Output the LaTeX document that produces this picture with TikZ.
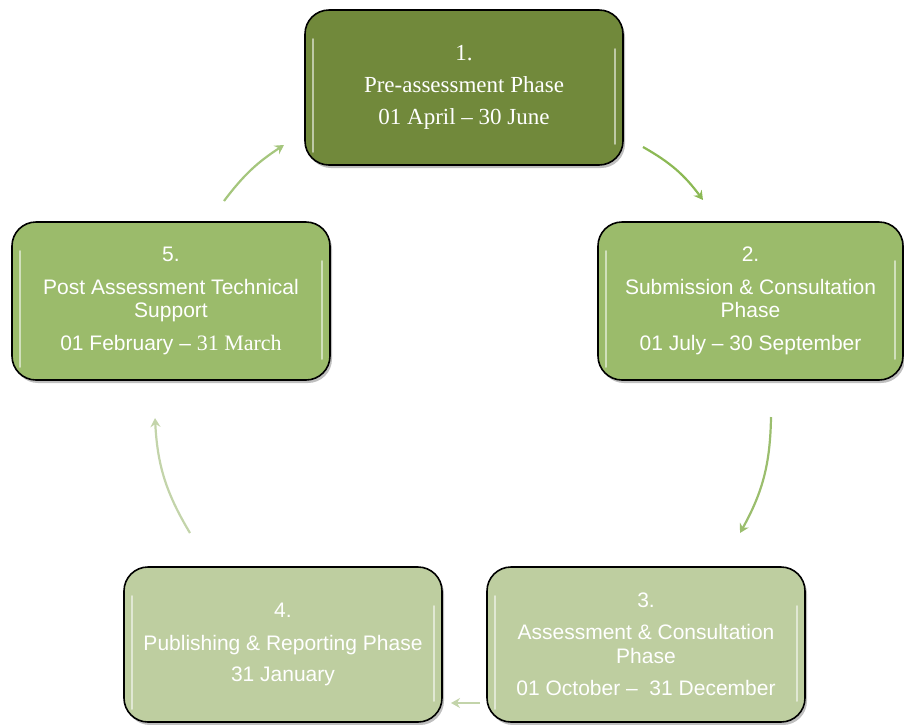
\documentclass[tikz,border=0pt]{standalone}
\usepackage{fontspec}
\setmainfont{Liberation Serif}
\newfontfamily\boxsans{Liberation Sans}
\usetikzlibrary{calc,shadows,arrows.meta}

\definecolor{gDark}{RGB}{113,137,59}
\definecolor{gMid}{RGB}{155,187,107}
\definecolor{gLight}{RGB}{190,206,160}
\definecolor{aOne}{RGB}{140,185,85}
\definecolor{aTwo}{RGB}{155,190,110}
\definecolor{aThree}{RGB}{195,212,170}
\definecolor{aFive}{RGB}{165,198,125}

\begin{document}
\begin{tikzpicture}[x=1pt,y=-1pt,
  phase/.style={draw=black, line width=1.6pt, rounded corners=24pt,
    minimum width=318pt, minimum height=155pt, align=center, text=white,
    inner sep=0pt,
    drop shadow={shadow xshift=2pt, shadow yshift=-3pt, opacity=0.25, fill=black}},
  hl/.style={white, line width=2.5pt, line cap=round, opacity=0.55},
  cyc/.style={line width=2.2pt, -{Stealth[length=9pt,width=10pt,inset=3pt]}},
  sansbox/.style={font=\boxsans\fontsize{21}{23.5}\selectfont},
  serifbox/.style={font=\fontsize{23}{25}\selectfont}
]
\useasboundingbox (0,0) rectangle (904,724);

\node[phase, serifbox, fill=gDark] (b1) at (464,87.5)
  {1.\\[7pt]Pre-assessment Phase\\[7pt]01 April – 30 June};
\node[phase, sansbox, fill=gMid, minimum width=305pt, minimum height=158pt] (b2) at (750.5,301)
  {2.\\[9pt]Submission \& Consultation\\Phase\\[9pt]01 July – 30 September};
\node[phase, sansbox, fill=gLight] (b3) at (646,644.5)
  {3.\\[9pt]Assessment \& Consultation\\Phase\\[9pt]01 October –~ 31 December};
\node[phase, sansbox, fill=gLight] (b4) at (283,644.5)
  {4.\\[9pt]Publishing \& Reporting Phase\\[8pt]31 January};
\node[phase, sansbox, fill=gMid, minimum height=158pt] (b5) at (171,301)
  {5.\\[9pt]Post Assessment Technical\\Support\\[9pt]01 February – {\rmfamily\fontsize{22}{23.5}\selectfont 31 March}};

% glossy highlights
\foreach \b in {b1,b2,b3,b4,b5}{
  \draw[hl] ($(\b.north west)+(9,30)$) -- ($(\b.south west)+(9,-14)$);
  \draw[hl] ($(\b.north east)+(-9,40)$) -- ($(\b.south east)+(-9,-22)$);
}

% connectors
\coordinate (a12s) at (643,147);
\coordinate (a12e) at (703,200);
\coordinate (a23s) at (771,417);
\coordinate (a23e) at (740,533);
\coordinate (a34s) at (480,703);
\coordinate (a34e) at (451,703);
\coordinate (a45s) at (190,533);
\coordinate (a45e) at (155,418);
\coordinate (a51s) at (224,201);
\coordinate (a51e) at (284,145);

\draw[cyc, aOne] (a12s) to[bend left=12] (a12e);
\draw[cyc, aTwo] (a23s) to[bend left=14] (a23e);
\draw[cyc, aThree] (a34s) -- (a34e);
\draw[cyc, aThree] (a45s) to[bend left=14] (a45e);
\draw[cyc, aFive] (a51s) to[bend left=10] (a51e);
\end{tikzpicture}
\end{document}
